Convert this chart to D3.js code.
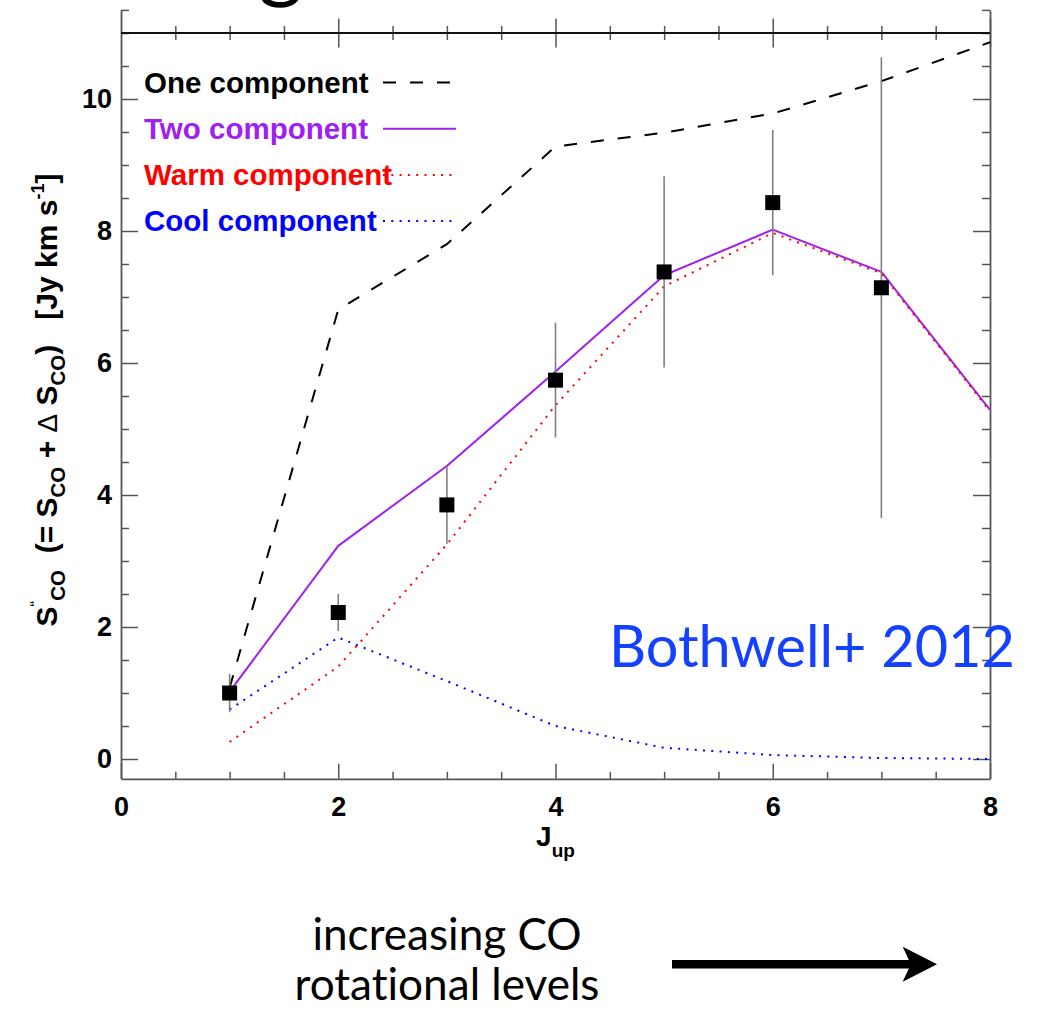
<!DOCTYPE html>
<html>
<head>
<meta charset="utf-8">
<script src="https://cdn.jsdelivr.net/npm/d3@7"></script>
<style>
  html, body { margin: 0; padding: 0; background: #fff; }
  svg { display: block; }
  text { font-variant-ligatures: none; }
</style>
</head>
<body>
<svg id="chart" width="1045" height="1011"></svg>
<script>
// CO spectral line energy distribution: observed fluxes and LVG model fits
const jUp = [1, 2, 3, 4, 5, 6, 7, 8];
const oneComponent  = [1.08, 6.81, 7.80, 9.28, 9.49, 9.78, 10.27, 10.86];
const twoComponent  = [1.02, 3.23, 4.44, 5.87, 7.33, 8.02, 7.38, 5.29];
const warmComponent = [0.26, 1.40, 3.25, 5.36, 7.16, 7.97, 7.36, 5.27];
const coolComponent = [0.75, 1.84, 1.18, 0.50, 0.17, 0.06, 0.015, 0.0];

const obsJ    = [1, 2, 3, 4, 5, 6, 7];
const obsFlux = [1.00, 2.22, 3.85, 5.74, 7.38, 8.43, 7.14];
const obsErr  = [0.29, 0.28, 0.59, 0.87, 1.45, 1.10, 3.49];

const xMajorTicks = [0, 2, 4, 6, 8];
const yMajorTicks = [0, 2, 4, 6, 8, 10];
const legendLabels = ["One component", "Two component", "Warm component", "Cool component"];

const svg = d3.select("#chart");

const x = d3.scaleLinear().domain([0, 8]).range([121, 990]);
const y = d3.scaleLinear().domain([-0.3, 11.35]).range([778.8, 9.9]);

const tickFont = "'Liberation Sans', Arial, Helvetica, sans-serif";
const axisGrey = "#555";

// Fragment of the slide title above the plot
svg.append("text")
  .attr("x", 281).attr("y", -9)
  .attr("text-anchor", "middle")
  .style("font-family", "'Gill Sans', 'Gill Sans MT', Lato, sans-serif")
  .style("font-size", "88px")
  .attr("fill", "#000")
  .text("g");

// ---- axes ----
const xMinor = d3.range(0, 8.001, 0.5).filter(v => !xMajorTicks.includes(v));
const yMinor = d3.range(0.5, 11.01, 0.5).filter(v => !yMajorTicks.includes(v)).concat([11.35]);

function styleAxis(g, showDomain) {
  g.selectAll(".tick line").attr("stroke", axisGrey).attr("stroke-width", 1.5);
  g.select(".domain").attr("stroke", showDomain ? axisGrey : "none").attr("stroke-width", 1.8);
  g.selectAll("text")
    .attr("fill", "#000")
    .style("font-family", tickFont)
    .style("font-weight", "bold")
    .style("font-size", "27px");
}

// bottom
svg.append("g").attr("transform", `translate(0,${y(-0.3)})`)
  .call(d3.axisBottom(x).tickValues(xMinor).tickSize(-7).tickSizeOuter(0).tickFormat(""))
  .call(g => styleAxis(g, false));
svg.append("g").attr("transform", `translate(0,${y(-0.3)})`)
  .call(d3.axisBottom(x).tickValues(xMajorTicks).tickSize(-15).tickSizeOuter(0).tickPadding(18).tickFormat(d3.format("d")))
  .call(g => styleAxis(g, true));

// left
svg.append("g").attr("transform", `translate(${x(0)},0)`)
  .call(d3.axisLeft(y).tickValues(yMinor).tickSize(-8).tickSizeOuter(0).tickFormat(""))
  .call(g => styleAxis(g, false));
svg.append("g").attr("transform", `translate(${x(0)},0)`)
  .call(d3.axisLeft(y).tickValues(yMajorTicks).tickSize(-17).tickSizeOuter(0).tickPadding(9).tickFormat(d3.format("d")))
  .call(g => styleAxis(g, true));

// right
svg.append("g").attr("transform", `translate(${x(8)},0)`)
  .call(d3.axisRight(y).tickValues(yMinor).tickSize(-8).tickSizeOuter(0).tickFormat(""))
  .call(g => styleAxis(g, false));
svg.append("g").attr("transform", `translate(${x(8)},0)`)
  .call(d3.axisRight(y).tickValues(yMajorTicks).tickSize(-17).tickSizeOuter(0).tickFormat(""))
  .call(g => styleAxis(g, true));

// horizontal reference axis at S = 11 with ticks on both sides
const topMajor = xMajorTicks.filter(v => v > 0);
[d3.axisTop, d3.axisBottom].forEach(ax => {
  svg.append("g").attr("transform", `translate(0,${y(11)})`)
    .call(ax(x).tickValues(xMinor).tickSize(7).tickSizeOuter(0).tickFormat(""))
    .call(g => styleAxis(g, false));
  svg.append("g").attr("transform", `translate(0,${y(11)})`)
    .call(ax(x).tickValues(topMajor).tickSize(14.5).tickSizeOuter(0).tickFormat(""))
    .call(g => styleAxis(g, false));
});
svg.append("line")
  .attr("x1", x(0)).attr("x2", x(8))
  .attr("y1", y(11)).attr("y2", y(11))
  .attr("stroke", "#111").attr("stroke-width", 2);

// ---- model curves ----
const seriesStyle = {
  "One component":  { color: "#000000", dash: "13 14", width: 2 },
  "Two component":  { color: "#A020F0", dash: null,    width: 2 },
  "Warm component": { color: "#FF0000", dash: "2 6.3", width: 2 },
  "Cool component": { color: "#0000FF", dash: "2 6.3", width: 2 }
};
const seriesValues = {
  "One component": oneComponent,
  "Two component": twoComponent,
  "Warm component": warmComponent,
  "Cool component": coolComponent
};

const line = d3.line().x(d => x(d[0])).y(d => y(d[1]));

legendLabels.forEach(name => {
  const st = seriesStyle[name];
  const pts = jUp.map((j, i) => [j, seriesValues[name][i]]);
  svg.append("path")
    .datum(pts)
    .attr("d", line)
    .attr("fill", "none")
    .attr("stroke", st.color)
    .attr("stroke-width", st.width)
    .attr("stroke-dasharray", st.dash)
    .attr("stroke-linejoin", "round");
});

// ---- observations ----
const obs = obsJ.map((j, i) => ({ j, f: obsFlux[i], e: obsErr[i] }));
svg.append("g").selectAll("line")
  .data(obs).join("line")
  .attr("x1", d => x(d.j)).attr("x2", d => x(d.j))
  .attr("y1", d => y(d.f + d.e)).attr("y2", d => y(d.f - d.e))
  .attr("stroke", "#7f7f7f").attr("stroke-width", 1.6);

const sq = 15;
svg.append("g").selectAll("rect")
  .data(obs).join("rect")
  .attr("x", d => x(d.j) - sq / 2).attr("y", d => y(d.f) - sq / 2)
  .attr("width", sq).attr("height", sq)
  .attr("fill", "#000");

// ---- legend ----
const legend = svg.append("g");
legendLabels.forEach((name, i) => {
  const st = seriesStyle[name];
  const base = 92.5 + i * 46.2;
  legend.append("line")
    .attr("x1", 383).attr("x2", 456)
    .attr("y1", base - 10).attr("y2", base - 10)
    .attr("stroke", st.color).attr("stroke-width", st.width)
    .attr("stroke-dasharray", st.dash);
  legend.append("text")
    .attr("x", 144).attr("y", base)
    .attr("fill", st.color)
    .style("font-family", tickFont)
    .style("font-weight", "bold")
    .style("font-size", "29.5px")
    .text(name);
});

// ---- axis titles ----
const xt = svg.append("text")
  .attr("x", x(4)).attr("y", 846)
  .attr("text-anchor", "middle")
  .style("font-family", tickFont).style("font-weight", "bold")
  .attr("fill", "#000");
xt.append("tspan").style("font-size", "28px").text("J");
xt.append("tspan").style("font-size", "19px").attr("dy", 11).text("up");

const yt = svg.append("text")
  .attr("transform", `translate(57,${400}) rotate(-90)`)
  .attr("text-anchor", "middle")
  .style("font-family", tickFont).style("font-weight", "bold")
  .style("white-space", "pre")
  .attr("fill", "#000");
const yParts = [
  ["S", 30, 0, "bold"], ["\u201C", 17, -15, "normal"], ["CO", 20.5, 7.5, "bold"],
  ["  (= S", 30, 0, "bold"], ["CO", 20.5, 7.5, "bold"], [" + ", 30, 0, "bold"],
  ["\u0394", 28, 0, "normal"], [" S", 30, 0, "bold"], ["CO", 20.5, 7.5, "bold"],
  [")   [Jy km s", 30, 0, "bold"], ["-1", 18, -13, "bold"], ["]", 30, 0, "bold"]
];
let prevShift = 0;
yParts.forEach(([t, size, shift, weight]) => {
  yt.append("tspan")
    .attr("dy", shift - prevShift)
    .style("font-size", size + "px")
    .style("font-weight", weight)
    .text(t);
  prevShift = shift;
});

// ---- annotations ----
const annFont = "'Gill Sans', 'Gill Sans MT', Lato, sans-serif";
function fitText(sel, width) {
  const w0 = sel.node().getComputedTextLength();
  const fs = parseFloat(sel.style("font-size"));
  return fs * width / w0;
}

const cite = svg.append("text")
  .attr("x", 609).attr("y", 667)
  .attr("fill", "#1440FF")
  .style("font-family", annFont)
  .style("font-size", "60px")
  .text("Bothwell+ 2012");
cite.style("font-size", fitText(cite, 406) + "px");

const l2 = svg.append("text")
  .attr("x", 447).attr("y", 1000)
  .attr("text-anchor", "middle")
  .attr("fill", "#000")
  .style("font-family", annFont)
  .style("font-size", "40px")
  .text("rotational levels");
const annSize = fitText(l2, 305);
l2.style("font-size", annSize + "px");
svg.append("text")
  .attr("x", 447).attr("y", 950)
  .attr("text-anchor", "middle")
  .attr("fill", "#000")
  .style("font-family", annFont)
  .style("font-size", annSize + "px")
  .text("increasing CO");

// arrow
svg.append("rect")
  .attr("x", 672).attr("y", 960).attr("width", 238).attr("height", 8.5)
  .attr("fill", "#000");
svg.append("path")
  .attr("d", "M937,964.2 L902.7,946.7 L909.3,961 L909.3,967.5 L902.7,981.7 Z")
  .attr("fill", "#000");
</script>
</body>
</html>
